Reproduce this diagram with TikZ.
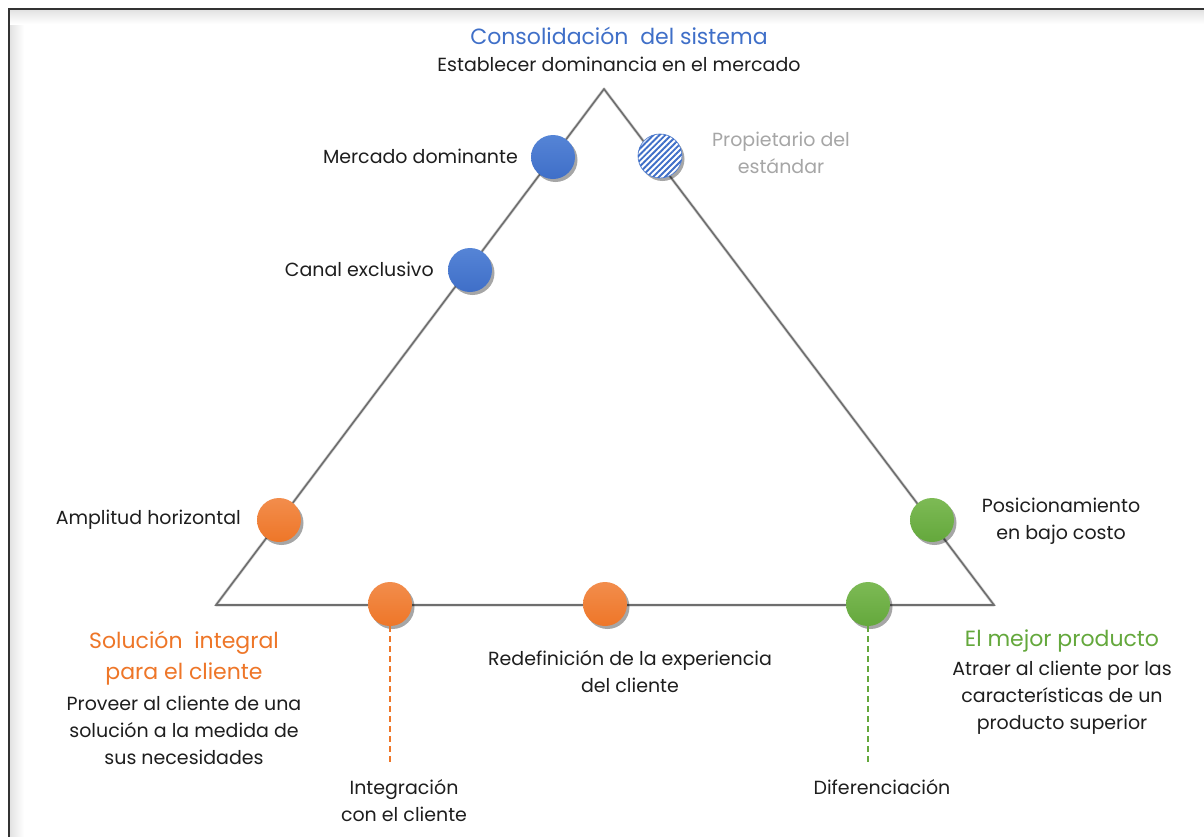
\documentclass[tikz,border=0pt]{standalone}
\usepackage{fontspec}
\setmainfont{Poppins}
\usetikzlibrary{shadows,patterns.meta}

\definecolor{cblue}{HTML}{3F6FC8}
\definecolor{cbluehi}{HTML}{5584D6}
\definecolor{corange}{HTML}{EE7628}
\definecolor{corangehi}{HTML}{F28D4C}
\definecolor{cgreen}{HTML}{64A83C}
\definecolor{cgreenhi}{HTML}{7DBA55}
\definecolor{edgegray}{HTML}{6E6E6E}
\definecolor{txt}{HTML}{1E1E1E}
\definecolor{faint}{HTML}{A6A6A6}

\tikzset{
  body/.style={font=\fontsize{19}{27}\selectfont, align=center, text=txt, inner sep=0pt},
  head/.style={font=\fontsize{22}{31}\selectfont, align=center, inner sep=0pt},
  dot/.style={circle, minimum size=44pt, inner sep=0pt,
    drop shadow={shadow xshift=2.5pt, shadow yshift=-3pt, opacity=0.35, fill=black}},
  bluedot/.style={dot, top color=cbluehi, bottom color=cblue},
  orangedot/.style={dot, top color=corangehi, bottom color=corange},
  greendot/.style={dot, top color=cgreenhi, bottom color=cgreen},
  hatchdot/.style={dot, fill=white, draw=cblue!80, line width=0.8pt,
    postaction={pattern={Lines[angle=45, distance=4.2pt, line width=1.9pt]}, pattern color=cblue}},
  edge/.style={draw=edgegray, line width=1.6pt, line join=miter},
  leader/.style={dash pattern=on 6pt off 4pt, line width=1.4pt}
}

\begin{document}
\begin{tikzpicture}[x=1pt, y=-1pt]
\useasboundingbox (0,0) rectangle (1204,836);
\fill[white] (0,0) rectangle (1204,836);

% frame with inner shading
\shade[left color=black!12, right color=white] (9,9) rectangle (24,836);
\shade[top color=black!12, bottom color=white] (9,9) rectangle (1204,24);
\draw[black!80, line width=1.6pt] (8.8,850) -- (8.8,8.8) -- (1220,8.8);

% triangle corners
\coordinate (top) at (604,89);
\coordinate (bl) at (216,605);
\coordinate (br) at (994,605);

% triangle with shadow
\draw[black!16, line width=3pt, line join=round, xshift=2pt, yshift=-3pt] (top) -- (br) -- (bl) -- cycle;
\draw[edge] (top) -- (br) -- (bl) -- cycle;

% dots
\node[bluedot] (md) at (553,157) {};
\node[hatchdot] (pe) at (660,156) {};
\node[bluedot] (ce) at (470,270) {};
\node[orangedot] (ah) at (279,520) {};
\node[orangedot] (ic) at (390,604) {};
\node[orangedot] (re) at (605,604) {};
\node[greendot] (di) at (868,604) {};
\node[greendot] (pb) at (932,520) {};

% leaders
\coordinate (icend) at (390,766);
\coordinate (diend) at (868,766);
\draw[leader, draw=corange] (ic.south) -- (icend);
\draw[leader, draw=cgreen] (di.south) -- (diend);

% headings
\node[head, text=cblue] (hsys) at (619,36) {Consolidación\ \ del sistema};
\node[body] (dsys) at (619,64) {Establecer dominancia en el mercado};
\node[head, text=corange] (hsol) at (184,658) {Solución\ \ integral\\para el cliente};
\node[body] (dsol) at (184,730) {Proveer al cliente de una\\solución a la medida de\\sus necesidades};
\node[head, text=cgreen] (hprod) at (1062,641) {El mejor producto};
\node[body] (dprod) at (1062,698) {Atraer al cliente por las\\características de un\\producto superior};

% dot labels
\node[body, anchor=east] (lmd) at (518,156) {Mercado dominante};
\node[body, text=faint] (lpe) at (781,153) {Propietario del\\estándar};
\node[body, anchor=east] (lce) at (434,269) {Canal exclusivo};
\node[body, anchor=east] (lah) at (241,520) {Amplitud horizontal};
\node[body] (lpb) at (1061,521) {Posicionamiento\\en bajo costo};
\node[body] (lre) at (630,672) {Redefinición de la experiencia\\del cliente};
\node[body] (lic) at (404,801) {Integración\\con el cliente};
\node[body] (ldi) at (882,787) {Diferenciación};
\end{tikzpicture}
\end{document}
